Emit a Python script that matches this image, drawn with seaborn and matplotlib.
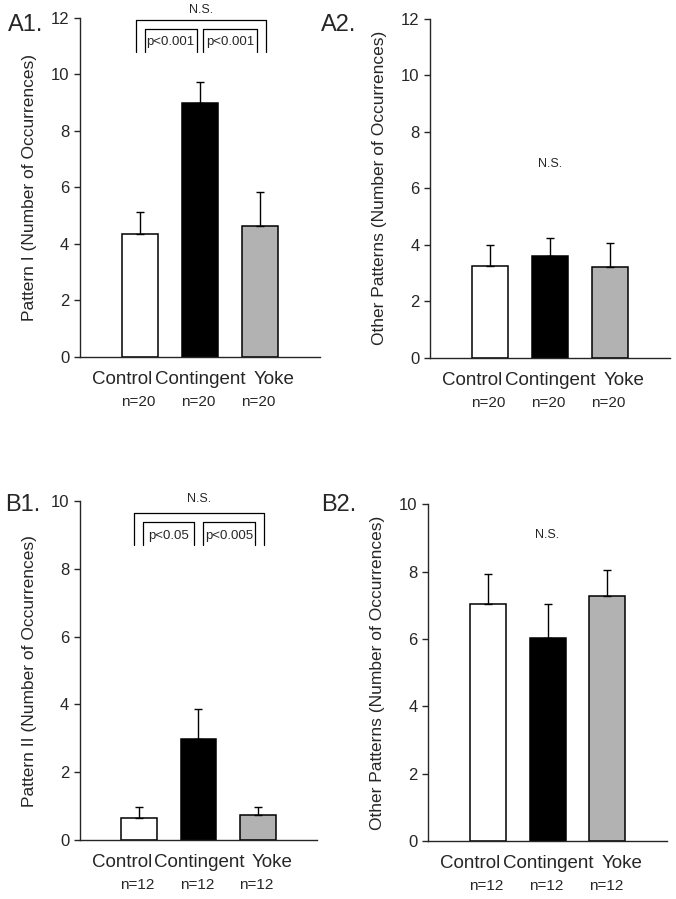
import numpy as np
import pandas as pd
import matplotlib
matplotlib.use("Agg")
import matplotlib.pyplot as plt
import seaborn as sns

groups = ["Control", "Contingent", "Yoke"]
bar_colors = ["white", "black", "#b2b2b2"]

a1_mean = [4.36, 9.00, 4.64]
a1_err = [0.78, 0.72, 1.21]
a2_mean = [3.26, 3.59, 3.22]
a2_err = [0.72, 0.65, 0.83]
b1_mean = [0.66, 2.99, 0.74]
b1_err = [0.31, 0.87, 0.24]
b2_mean = [7.05, 6.04, 7.29]
b2_err = [0.89, 1.00, 0.76]

a_n = ["n=20", "n=20", "n=20"]
b_n = ["n=12", "n=12", "n=12"]

# the group names are typeset as one line, so they sit a little off the bar centres
label_shift = [-12.5, 0.5, 10.5]

sns.set_style("ticks")
plt.rcParams["font.family"] = ["Liberation Sans", "DejaVu Sans"]

fig = plt.figure(figsize=(6.76, 8.99), dpi=100)

panels = [
    dict(tag="A1.", rect=[0.118, 0.603, 0.355, 0.377], mean=a1_mean, err=a1_err,
         ymax=12, ylabel="Pattern I (Number of Occurrences)", n=a_n,
         brackets=dict(outer=(-0.07, 2.10, 11.93, 10.8), inner_top=11.6,
                       left=(0.08, 0.95), right=(1.06, 1.95),
                       p=("p<0.001", "p<0.001"), p_y=11.15, ns_y=12.28),
         ns=None, tag_xy=(0.012, 0.966)),
    dict(tag="A2.", rect=[0.636, 0.602, 0.355, 0.377], mean=a2_mean, err=a2_err,
         ymax=12, ylabel="Other Patterns (Number of Occurrences)", n=a_n,
         brackets=None, ns=6.85, tag_xy=(0.475, 0.966)),
    dict(tag="B1.", rect=[0.118, 0.0656, 0.351, 0.377], mean=b1_mean, err=b1_err,
         ymax=10, ylabel="Pattern II (Number of Occurrences)", n=b_n,
         brackets=dict(outer=(-0.08, 2.10, 9.65, 8.7), inner_top=9.39,
                       left=(0.07, 0.93), right=(1.07, 1.96),
                       p=("p<0.05", "p<0.005"), p_y=8.97, ns_y=10.05),
         ns=None, tag_xy=(0.008, 0.432)),
    dict(tag="B2.", rect=[0.633, 0.0645, 0.354, 0.3745], mean=b2_mean, err=b2_err,
         ymax=10, ylabel="Other Patterns (Number of Occurrences)", n=b_n,
         brackets=None, ns=9.1, tag_xy=(0.475, 0.432)),
]

for p in panels:
    ax = fig.add_axes(p["rect"])
    df = pd.DataFrame({"group": groups, "value": p["mean"]})
    sns.barplot(data=df, x="group", y="value", hue="group", palette=bar_colors,
                width=0.6, edgecolor="black", linewidth=1.1, legend=False,
                errorbar=None, ax=ax)
    # one-sided (upper) error bars
    xs = np.arange(len(groups))
    ax.errorbar(xs, p["mean"], yerr=[np.zeros(len(groups)), p["err"]], fmt="none",
                ecolor="black", elinewidth=1.0, capsize=3, capthick=1.0, zorder=1)
    ax.set_xlim(-1.0, 3.0)
    ax.set_ylim(0, p["ymax"])
    ax.set_yticks(np.arange(0, p["ymax"] + 1, 2))
    ax.tick_params(axis="y", labelsize=12, length=4, width=1, direction="out")
    ax.set_xticks(xs)
    ax.set_xticklabels([])
    ax.tick_params(axis="x", length=0)
    ax.set_xlabel("")
    ax.set_ylabel(p["ylabel"], fontsize=12.5)
    ax.yaxis.set_label_coords(-0.18, 0.5)
    sns.despine(ax=ax)
    for s in ["left", "bottom"]:
        ax.spines[s].set_linewidth(1.0)
    ax.spines["left"].set_bounds(0, p["ymax"])

    for x, g, dx, lab in zip(xs, groups, label_shift, p["n"]):
        ax.annotate(g, xy=(x, 0), xycoords="data", xytext=(dx, -16.5),
                    textcoords="offset points", ha="center", va="center",
                    fontsize=13.5, annotation_clip=False)
        ax.annotate(lab, xy=(x, 0), xycoords="data", xytext=(-1, -32.5),
                    textcoords="offset points", ha="center", va="center",
                    fontsize=11, annotation_clip=False)

    fig.text(p["tag_xy"][0], p["tag_xy"][1], p["tag"], fontsize=17)

    b = p["brackets"]
    if b is not None:
        x0, x1, top, bot = b["outer"]
        ax.plot([x0, x0, x1, x1], [bot, top, top, bot], color="black", lw=0.9,
                clip_on=False)
        for (l, r), lab in zip([b["left"], b["right"]], b["p"]):
            ax.plot([l, l, r, r], [bot, b["inner_top"], b["inner_top"], bot],
                    color="black", lw=0.9, clip_on=False)
            ax.text((l + r) / 2, b["p_y"], lab, ha="center", va="center",
                    fontsize=9.5)
        ax.text((x0 + x1) / 2, b["ns_y"], "N.S.", ha="center", va="center",
                fontsize=9, clip_on=False)
    if p["ns"] is not None:
        ax.text(1.0, p["ns"], "N.S.", ha="center", va="center", fontsize=9)

fig.savefig("out.png", dpi=100)
